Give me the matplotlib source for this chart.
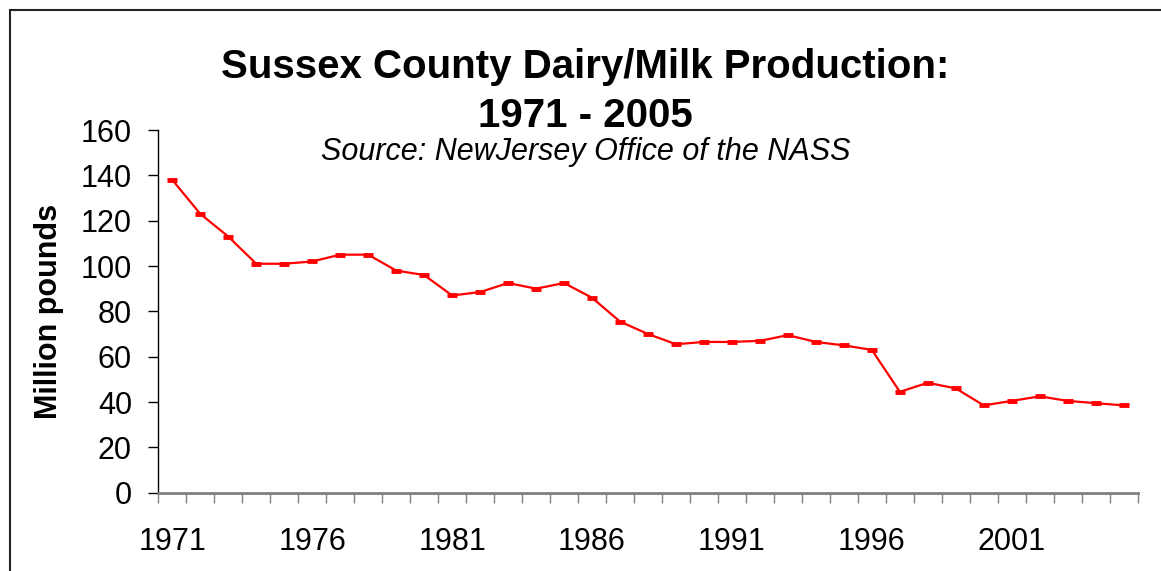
import numpy as np
import matplotlib
matplotlib.use('Agg')
import matplotlib.pyplot as plt
from matplotlib.patches import Rectangle

plt.rcParams['font.family'] = ['Liberation Sans', 'DejaVu Sans']

# data (million pounds per year)
years = list(range(1971, 2006))
milk = [138, 123, 113, 101, 101, 102, 105, 105, 98, 96,
        87, 88.5, 92.5, 90, 92.5, 86, 75.5, 70, 65.5, 66.5,
        66.5, 67, 69.5, 66.5, 65, 63, 44.5, 48.5, 46, 38.5,
        40.5, 42.5, 40.5, 39.5, 38.5]
ytick_vals = [0, 20, 40, 60, 80, 100, 120, 140, 160]
xlabel_years = [1971, 1976, 1981, 1986, 1991, 1996, 2001]

W, H = 1161, 571
fig = plt.figure(figsize=(W / 100, H / 100), dpi=100)
ax = fig.add_axes([158.3 / W, 1 - 492.7 / H, (1137.7 - 158.3) / W, (492.7 - 130) / H])

x = np.arange(len(years))
ax.plot(x, milk, color='#ff0000', lw=1.6, marker='_', markersize=6.5,
        markeredgewidth=3.5, solid_joinstyle='round')

ax.set_xlim(-0.5, len(years) - 0.5)
ax.set_ylim(0, 160)

# category style axis: ticks between categories, labels centred on categories
ax.set_xticks(np.arange(len(years) + 1) - 0.5)
ax.set_xticklabels([])
ax.set_xticks([years.index(y) for y in xlabel_years], minor=True)
ax.set_xticklabels([str(y) for y in xlabel_years], minor=True, fontsize=22)
ax.tick_params(axis='x', which='major', direction='out', length=7, width=1, color='#808080')
ax.tick_params(axis='x', which='minor', length=0, pad=25)

ax.set_yticks(ytick_vals)
ax.set_yticklabels([str(v) for v in ytick_vals], fontsize=22)
ax.tick_params(axis='y', direction='out', length=7, width=1, color='black', pad=12)

for s in ['top', 'right']:
    ax.spines[s].set_visible(False)
ax.spines['bottom'].set_color('#808080')
ax.spines['bottom'].set_linewidth(2)
ax.spines['left'].set_color('black')
ax.spines['left'].set_linewidth(1)

ax.set_ylabel('Million pounds', fontsize=22, fontweight='bold', labelpad=12)

fig.text(585 / W, 1 - 78 / H, 'Sussex County Dairy/Milk Production:', ha='center',
         va='baseline', fontsize=29, fontweight='bold')
fig.text(585 / W, 1 - 127 / H, '1971 - 2005', ha='center', va='baseline',
         fontsize=29, fontweight='bold')
fig.text(586 / W, 1 - 160 / H, 'Source: NewJersey Office of the NASS', ha='center',
         va='baseline', fontsize=22, style='italic')

# outer chart frame (cut off on the right and bottom)
fig.patches.append(Rectangle((10 / W, -0.05), 1.1, 1 - 10 / H + 0.05,
                             transform=fig.transFigure, fill=False,
                             edgecolor='#222222', lw=1.5))

fig.savefig('out.png', dpi=100)
